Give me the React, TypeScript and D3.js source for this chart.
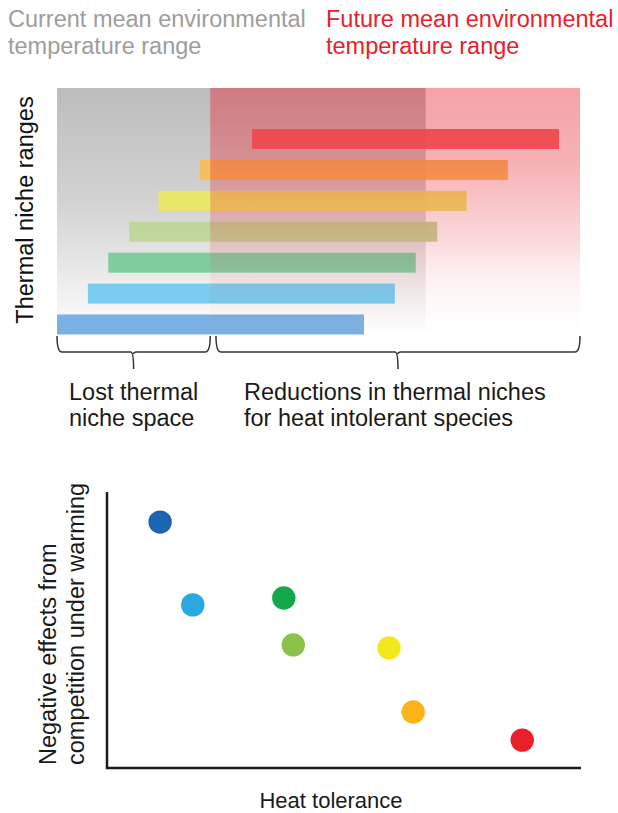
import * as d3 from "d3";

// top panel: thermal niche of each species (temperature units, 0-100)
const species = ["blue", "cyan", "green", "lightgreen", "yellow", "orange", "red"];
const nicheMin = [0, 5.9, 9.8, 13.8, 19.4, 27.3, 37.3];
const nicheMax = [58.7, 64.6, 68.6, 72.7, 78.3, 86.2, 96];
const barColors = ["#6eaadf", "#6fc8ef", "#78ca98", "#bcd694", "#ede85e", "#f9be55", "#f25a5e"];

const currentRange = [0, 70.5];
const futureRange = [29.3, 100];
const lostRange = [0, 29.3];
const reducedRange = [30.4, 100];

// bottom panel: heat tolerance vs negative competition effects
const heatTolerance = [1.12, 1.81, 3.73, 3.93, 5.95, 6.46, 8.76];
const competitionEffect = [8.91, 5.91, 6.16, 4.46, 4.35, 2.03, 1.01];
const dotColors = ["#1c64b0", "#2aa9e1", "#13a84a", "#8bc24a", "#f3e91a", "#fbb417", "#e8202a"];

const FONT = "'Liberation Sans', Arial, sans-serif";

function brace(x0: number, x1: number, yTop: number, yMid: number, yTip: number) {
  const m = (x0 + x1) / 2;
  const r = 5;
  const p = d3.path();
  p.moveTo(x0, yTop);
  p.quadraticCurveTo(x0, yMid, x0 + r, yMid);
  p.lineTo(m - 3, yMid);
  p.quadraticCurveTo(m, yMid, m, yTip);
  p.moveTo(m, yMid + 2);
  p.quadraticCurveTo(m, yMid, m + 3, yMid);
  p.lineTo(x1 - r, yMid);
  p.quadraticCurveTo(x1, yMid, x1, yTop);
  return p.toString();
}

export default function App() {
  const top = 88;
  const bottom = 335;

  const x = d3.scaleLinear().domain([0, 100]).range([57, 580]);
  const y = d3
    .scalePoint<string>()
    .domain(species.slice().reverse())
    .range([139, 324.5]);
  const barH = 20;

  const sx = d3.scaleLinear().domain([0, 10]).range([107, 581]);
  const sy = d3.scaleLinear().domain([0, 10]).range([768, 492]);

  const redStops: [number, number][] = [
    [0, 0.43], [0.3, 0.36], [0.46, 0.27], [0.6, 0.19], [0.72, 0.09], [0.86, 0.03], [1, 0],
  ];

  return (
    <svg
      width={618}
      height={813}
      style={{ position: "absolute", left: 0, top: 0, background: "#fff" }}
      fontFamily={FONT}
    >
      <defs>
        <linearGradient id="grayGrad" x1="0" y1="0" x2="0" y2="1">
          <stop offset="0" stopColor="#bcbcbc" />
          <stop offset="0.45" stopColor="#d2d2d2" />
          <stop offset="0.66" stopColor="#e2e2e2" />
          <stop offset="0.86" stopColor="#f3f3f3" />
          <stop offset="1" stopColor="#ffffff" />
        </linearGradient>
        <linearGradient id="redGrad" x1="0" y1="0" x2="0" y2="1">
          {redStops.map(([o, a]) => (
            <stop key={o} offset={o} stopColor="rgb(232,40,50)" stopOpacity={a} />
          ))}
        </linearGradient>
      </defs>

      {/* titles */}
      <g fontSize={23.5}>
        <text x={8} y={27} fill="#9d9d9d">Current mean environmental</text>
        <text x={8} y={53.5} fill="#9d9d9d">temperature range</text>
        <text x={326} y={27} fill="#e8212b">Future mean environmental</text>
        <text x={326} y={53.5} fill="#e8212b">temperature range</text>
      </g>

      {/* current range background */}
      <rect
        x={x(currentRange[0])}
        y={top}
        width={x(currentRange[1]) - x(currentRange[0])}
        height={bottom - top}
        fill="url(#grayGrad)"
      />

      {/* niche bars */}
      {species.map((s, i) => (
        <rect
          key={s}
          x={x(nicheMin[i])}
          y={(y(s) ?? 0) - barH / 2}
          width={x(nicheMax[i]) - x(nicheMin[i])}
          height={barH}
          fill={barColors[i]}
          opacity={0.92}
        />
      ))}

      {/* future range overlay */}
      <rect
        x={x(futureRange[0])}
        y={top}
        width={x(futureRange[1]) - x(futureRange[0])}
        height={bottom - top}
        fill="url(#redGrad)"
      />

      <text
        transform={`translate(33,210) rotate(-90)`}
        textAnchor="middle"
        fontSize={23.5}
        fill="#111"
      >
        Thermal niche ranges
      </text>

      {/* braces */}
      <g fill="none" stroke="#333" strokeWidth={1.5}>
        <path d={brace(x(lostRange[0]), x(lostRange[1]), 336, 352, 369)} />
        <path d={brace(x(reducedRange[0]), x(reducedRange[1]), 336, 352, 369)} />
      </g>

      <g fontSize={23.5} fill="#1a1a1a">
        <text x={69} y={400}>Lost thermal</text>
        <text x={69} y={426}>niche space</text>
        <text x={244} y={400}>Reductions in thermal niches</text>
        <text x={244} y={426}>for heat intolerant species</text>
      </g>

      {/* scatter */}
      <path
        d={`M${sx(0)},${sy(10)}V${sy(0)}H${sx(10)}`}
        fill="none"
        stroke="#1a1a1a"
        strokeWidth={2.5}
      />
      {heatTolerance.map((h, i) => (
        <circle key={i} cx={sx(h)} cy={sy(competitionEffect[i])} r={11.7} fill={dotColors[i]} />
      ))}

      <g fontSize={23.5} fill="#1a1a1a">
        <text transform="translate(56,765) rotate(-90)">Negative effects from</text>
        <text transform="translate(84,765) rotate(-90)">competition under warming</text>
      </g>
      <text x={331} y={808} textAnchor="middle" fontSize={22} fill="#1a1a1a">
        Heat tolerance
      </text>
    </svg>
  );
}
